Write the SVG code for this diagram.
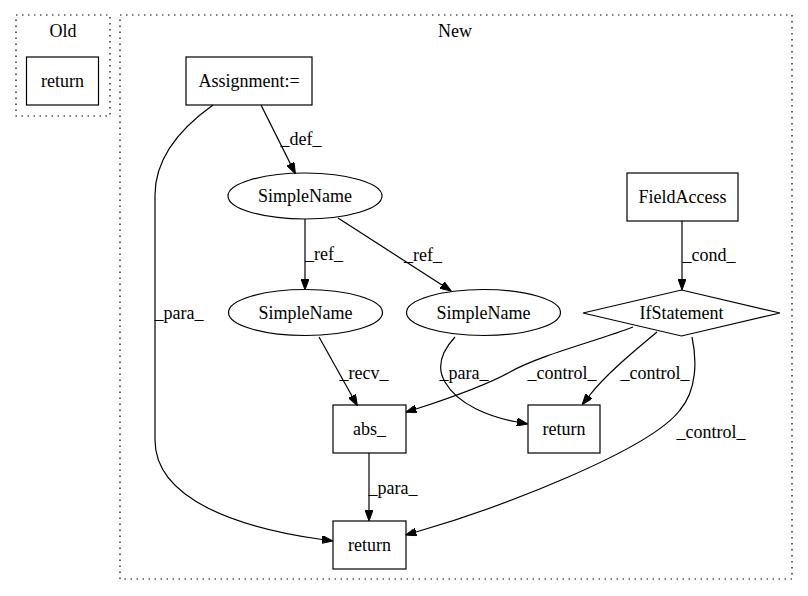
<svg xmlns="http://www.w3.org/2000/svg" width="808" height="596" viewBox="0 0 808 596">
<defs>
<style>
text{font-family:"Liberation Serif","Times New Roman",serif;font-size:18px;fill:#000;text-anchor:middle}
.n{fill:none;stroke:#000;stroke-width:1.2}
.c{fill:none;stroke:#000;stroke-width:1.2;stroke-dasharray:1.5,4.5}
.e{fill:none;stroke:#000;stroke-width:1.2;marker-end:url(#ah)}
</style>
<marker id="ah" markerWidth="11" markerHeight="8" refX="0" refY="4" orient="auto" markerUnits="userSpaceOnUse">
<path d="M0,0 L11,4 L0,8 z" fill="#000" stroke="#000" stroke-width="1"/>
</marker>
</defs>
<rect width="808" height="596" fill="#fff"/>
<g id="cluster_old">
<rect class="c" x="16" y="15" width="94" height="101"/>
<text x="63" y="37">Old</text>
</g>
<g id="cluster_new">
<rect class="c" x="120" y="15" width="672" height="564"/>
<text x="455" y="37">New</text>
</g>
<g id="old_return"><rect class="n" x="26.5" y="57" width="72" height="48"/><text x="62.5" y="87">return</text></g>
<g id="assignment"><rect class="n" x="186" y="57" width="126" height="48"/><text x="249" y="87">Assignment:=</text></g>
<g id="simplename1"><ellipse class="n" cx="305" cy="196" rx="77" ry="23"/><text x="305" y="202">SimpleName</text></g>
<g id="simplename2"><ellipse class="n" cx="305.5" cy="312.5" rx="77" ry="23"/><text x="305.5" y="318.5">SimpleName</text></g>
<g id="simplename3"><ellipse class="n" cx="483.5" cy="312.5" rx="77" ry="23"/><text x="483.5" y="318.5">SimpleName</text></g>
<g id="fieldaccess"><rect class="n" x="627" y="173" width="111" height="48"/><text x="682.5" y="203">FieldAccess</text></g>
<g id="ifstatement"><polygon class="n" points="681.5,290 780,313 681.5,336 583,313"/><text x="681.5" y="319">IfStatement</text></g>
<g id="abs"><rect class="n" x="333" y="405" width="73" height="48"/><text x="369.5" y="435">abs_</text></g>
<g id="return_mid"><rect class="n" x="528" y="405" width="72" height="48"/><text x="564" y="435">return</text></g>
<g id="return_bottom"><rect class="n" x="333" y="521" width="73" height="48"/><text x="369.5" y="551">return</text></g>
<g id="edges">
<path class="e" d="M261,105 L290.5,164"/>
<text x="301" y="145">_def_</text>
<path class="e" d="M213,105 C185,125 155,155 155,195 L155,440 C155,500 240,528 322,539.5"/>
<text x="179" y="319">_para_</text>
<path class="e" d="M305,219 L305,279"/>
<text x="324" y="260">_ref_</text>
<path class="e" d="M338,218 L442,285"/>
<text x="423" y="261">_ref_</text>
<path class="e" d="M682,221 L682,279"/>
<text x="709" y="261">_cond_</text>
<path class="e" d="M319,337 L352,396"/>
<text x="364" y="379">_recv_</text>
<path class="e" d="M455,337 C443,350 435,365 445,382 C458,405 490,417 517,422"/>
<text x="464" y="379">_para_</text>
<path class="e" d="M633,327 C600,340 540,355 510,372 C490,383 450,398 416,409"/>
<text x="562" y="379">_control_</text>
<path class="e" d="M657,332 C638,348 608,372 589,396"/>
<text x="655" y="379">_control_</text>
<path class="e" d="M692,337 C697,360 697,390 680,410 C650,450 500,508 416,532"/>
<text x="711" y="438">_control_</text>
<path class="e" d="M369,453 L369,510"/>
<text x="393" y="494">_para_</text>
</g>
</svg>
